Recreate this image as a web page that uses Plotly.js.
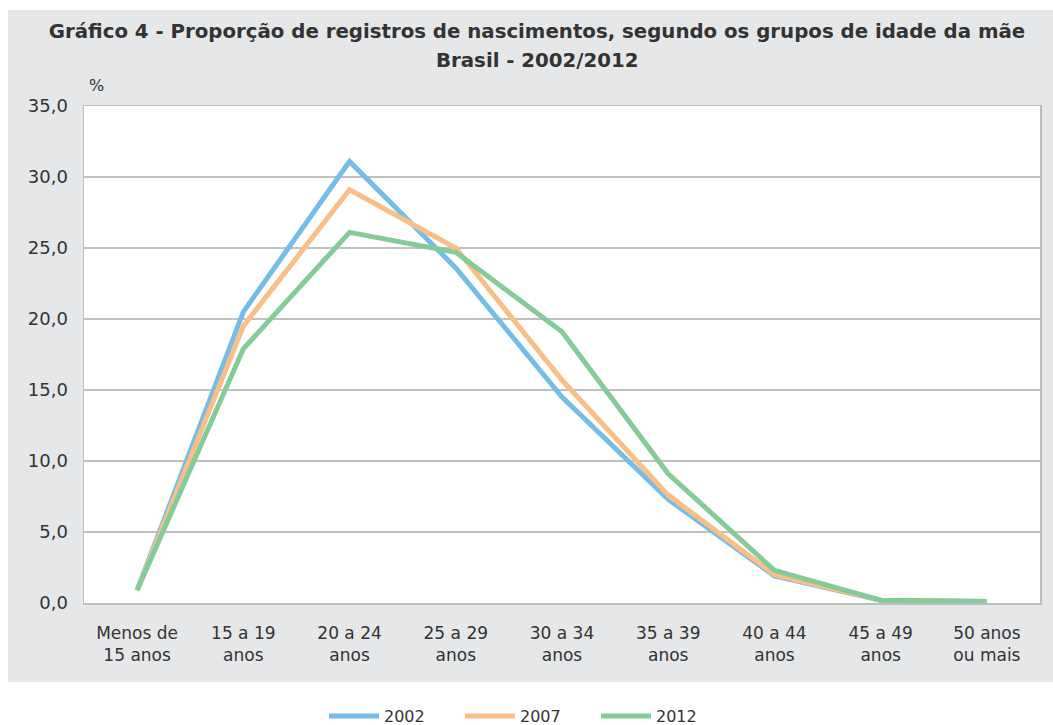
<!DOCTYPE html>
<html>
<head>
<meta charset="utf-8">
<script src="https://cdn.plot.ly/plotly-3.0.1.min.js"></script>
<style>html,body{margin:0;padding:0;background:#fff;}#chart{width:1053px;height:725px;}</style>
</head>
<body>
<div id="chart"></div>
<script>
const categories = ["Menos de<br>15 anos", "15 a 19<br>anos", "20 a 24<br>anos", "25 a 29<br>anos", "30 a 34<br>anos", "35 a 39<br>anos", "40 a 44<br>anos", "45 a 49<br>anos", "50 anos<br>ou mais"];
const seriesNames = ["2002", "2007", "2012"];
const values2002 = [0.9, 20.5, 31.1, 23.6, 14.5, 7.3, 1.9, 0.2, 0.1];
const values2007 = [0.9, 19.5, 29.1, 25.0, 15.7, 7.6, 2.0, 0.2, 0.1];
const values2012 = [0.9, 17.9, 26.1, 24.7, 19.1, 9.1, 2.3, 0.2, 0.1];
const yTicks = [0, 5, 10, 15, 20, 25, 30, 35];
const titleLine1 = "Gráfico 4 - Proporção de registros de nascimentos, segundo os grupos de idade da mãe";
const titleLine2 = "Brasil - 2002/2012";

const colors = ["#74BDE8", "#FBBE87", "#84CB9A"];
const allValues = [values2002, values2007, values2012];
const xIdx = categories.map((c, i) => i);

const traces = allValues.map((v, k) => ({
  type: "scatter",
  mode: "lines",
  name: seriesNames[k],
  x: xIdx,
  y: v,
  line: {color: colors[k], width: 5, shape: "linear"},
  hoverinfo: "skip"
}));

const FONT = "DejaVu Sans, Arial, sans-serif";
// plot area px: left 84, right 1040, top 106, bottom 603
const L = 84, R = 1040, T = 106, B = 603, W = 1053, H = 725;
const pw = R - L, ph = B - T;
const px = v => (v - L) / pw;
const py = v => (B - v) / ph;
const TSIZE = 19.75;

const layout = {
  width: W, height: H,
  margin: {l: L, r: W - R, t: T, b: H - B, pad: 0, autoexpand: false},
  paper_bgcolor: "#ffffff",
  plot_bgcolor: "rgba(0,0,0,0)",
  separators: ",.",
  font: {family: FONT, color: "#333333", size: 16},
  title: {
    text: "<b>" + titleLine1 + "</b>",
    font: {size: TSIZE, color: "#333333", family: FONT},
    x: 537 / W, xref: "container", xanchor: "center",
    y: (H - 31) / H, yref: "container", yanchor: "middle",
    automargin: false
  },
  xaxis: {
    range: [-0.5, categories.length - 0.5],
    tickmode: "array", tickvals: xIdx, ticktext: categories,
    showgrid: false, zeroline: false, automargin: false,
    showline: true, mirror: true, linecolor: "#BDBDBD", linewidth: 1.5,
    ticks: "", ticklabelstandoff: 14, tickfont: {size: 17, color: "#333333", family: FONT},
    fixedrange: true
  },
  yaxis: {
    range: [0, 35], automargin: false,
    tickmode: "array", tickvals: yTicks, tickformat: ".1f",
    showgrid: true, gridcolor: "#C0C0C0", gridwidth: 1.5,
    zeroline: false,
    showline: true, mirror: true, linecolor: "#BDBDBD", linewidth: 1.5,
    ticks: "", ticklabelstandoff: 11, tickfont: {size: 18, color: "#333333", family: FONT},
    fixedrange: true
  },
  showlegend: true,
  legend: {
    orientation: "h", xref: "container", x: 528 / W, xanchor: "center",
    yref: "container", y: (H - 716) / H, yanchor: "middle",
    font: {size: 16, color: "#333333", family: FONT},
    bgcolor: "rgba(0,0,0,0)", itemwidth: 50, entrywidth: 71, entrywidthmode: "pixels",
    traceorder: "normal"
  },
  shapes: [
    {type: "rect", xref: "paper", yref: "paper", layer: "below",
     x0: px(8), x1: px(1053), y0: py(682), y1: py(10),
     fillcolor: "#E6E7E9", line: {width: 0}},
    {type: "rect", xref: "paper", yref: "paper", layer: "below",
     x0: 0, x1: 1, y0: 0, y1: 1,
     fillcolor: "#FFFFFF", line: {width: 0}}
  ],
  annotations: [
    {text: "<b>" + titleLine2 + "</b>", xref: "paper", yref: "paper", x: px(537), y: py(60),
     xanchor: "center", yanchor: "middle", showarrow: false,
     font: {size: TSIZE, color: "#333333", family: FONT}},
    {text: "%", xref: "paper", yref: "paper", x: px(96), y: py(86),
     xanchor: "center", yanchor: "middle", showarrow: false,
     font: {size: 16, color: "#333333", family: FONT}}
  ]
};

Plotly.newPlot("chart", traces, layout, {displayModeBar: false, staticPlot: true});
</script>
</body>
</html>
